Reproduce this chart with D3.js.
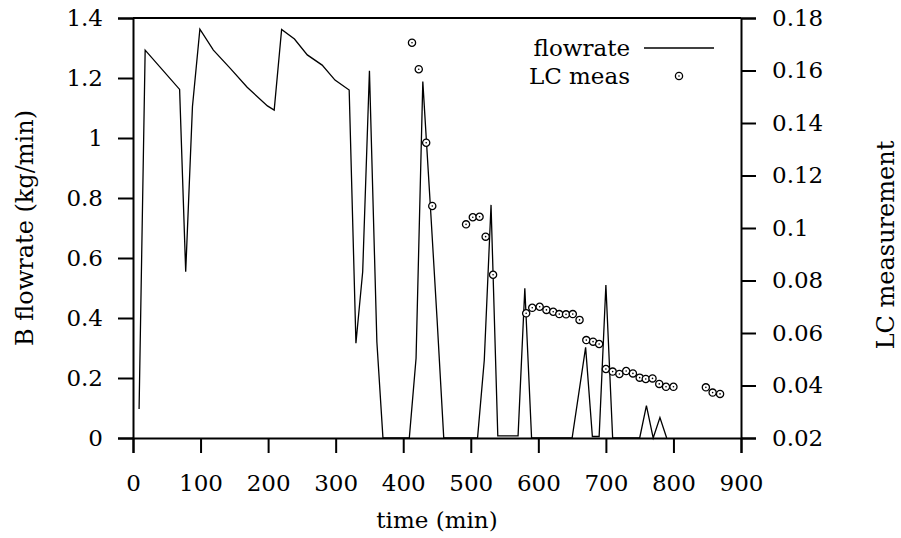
<!DOCTYPE html>
<html>
<head>
<meta charset="utf-8">
<script src="https://cdn.jsdelivr.net/npm/d3@7"></script>
<style>
  body { margin: 0; background: #fff; }
  svg { font-family: "DejaVu Serif", serif; }
</style>
</head>
<body>
<div id="chart-area"></div>
<script>
// flowrate line (kg/min)
var flowTime = [9, 18, 69, 78, 88, 99, 119, 144, 169, 199, 209, 220, 239, 258, 280, 299, 320, 330, 340, 350, 361, 370,
  409, 419, 429, 440, 450, 460, 510, 520, 530, 540, 550, 560, 570, 580, 590, 650, 670, 680, 690, 700, 710,
  750, 760, 770, 780, 790];
var flowRate = [0.097, 1.293, 1.162, 0.554, 1.104, 1.363, 1.293, 1.232, 1.169, 1.107, 1.093, 1.362, 1.33, 1.277, 1.243, 1.193, 1.16, 0.316, 0.554, 1.224, 0.32, 0,
  0, 0.266, 1.188, 0.78, 0.40, 0, 0, 0.26, 0.777, 0.007, 0.007, 0.007, 0.007, 0.499, 0, 0, 0.302, 0.005, 0.005, 0.51, 0,
  0, 0.108, 0, 0.068, 0];

// LC measurements
var lcTime = [413, 423, 434, 443, 493, 503, 513, 522, 533, 582, 591, 602, 612, 622, 631, 641, 651, 661,
  671, 681, 690, 700, 710, 720, 730, 740, 750, 759, 769, 779, 789, 800, 848, 858, 869];
var lcValue = [0.1706, 0.1605, 0.1325, 0.1084, 0.1014, 0.1041, 0.1043, 0.0967, 0.0822, 0.0675, 0.0696, 0.0700, 0.0688, 0.0681, 0.0672, 0.0671, 0.0672, 0.0650,
  0.0573, 0.0567, 0.0558, 0.0463, 0.0453, 0.0444, 0.0455, 0.0446, 0.0430, 0.0425, 0.0427, 0.0406, 0.0395, 0.0395, 0.0393, 0.0373, 0.0368];

var xTicks = [0, 100, 200, 300, 400, 500, 600, 700, 800, 900];
var yTicks = [0, 0.2, 0.4, 0.6, 0.8, 1, 1.2, 1.4];
var y2Ticks = [0.02, 0.04, 0.06, 0.08, 0.1, 0.12, 0.14, 0.16, 0.18];

var margin = { left: 133, right: 160, top: 18, bottom: 100 };
var width = 901 - margin.left - margin.right,
    height = 538 - margin.top - margin.bottom;

var svg = d3.select("#chart-area")
  .append("svg")
    .attr("width", 901)
    .attr("height", 538);

var g = svg.append("g")
  .attr("transform", "translate(" + margin.left + "," + margin.top + ")");

var x = d3.scaleLinear().domain([0, 900]).range([0, width]);
var y = d3.scaleLinear().domain([0, 1.4]).range([height, 0]);
var y2 = d3.scaleLinear().domain([0.02, 0.18]).range([height, 0]);

var fmt = function (d) { return String(+d.toFixed(2)); };

// axes
var xAxis = d3.axisBottom(x).tickValues(xTicks).tickSize(15).tickPadding(22).tickFormat(fmt);
var yAxis = d3.axisLeft(y).tickValues(yTicks).tickSize(15).tickPadding(15).tickFormat(fmt);
var y2Axis = d3.axisRight(y2).tickValues(y2Ticks).tickSize(15).tickPadding(16).tickFormat(fmt);

g.append("g").attr("class", "axis")
  .attr("transform", "translate(0," + height + ")")
  .call(xAxis);
g.append("g").attr("class", "axis")
  .call(yAxis);
g.append("g").attr("class", "axis")
  .attr("transform", "translate(" + width + ",0)")
  .call(y2Axis);

// top border
g.append("line")
  .attr("x1", 0).attr("x2", width)
  .attr("y1", 0).attr("y2", 0)
  .attr("stroke", "#000").attr("stroke-width", 2);

g.selectAll(".axis path").attr("stroke", "#000").attr("stroke-width", 2);
g.selectAll(".axis line").attr("stroke", "#000").attr("stroke-width", 2);
g.selectAll(".axis text")
  .attr("fill", "#000")
  .style("font-size", "23px")
  .style("font-family", "'DejaVu Serif', serif");

// flowrate line
var flowData = flowTime.map(function (t, i) { return { t: t, v: flowRate[i] }; });
var line = d3.line().x(function (d) { return x(d.t); }).y(function (d) { return y(d.v); });

g.append("path")
  .datum(flowData)
  .attr("d", line)
  .attr("fill", "none")
  .attr("stroke", "#000")
  .attr("stroke-width", 1.3);

// LC points
var lcData = lcTime.map(function (t, i) { return { t: t, v: lcValue[i] }; });

var pts = g.selectAll(".pt")
  .data(lcData)
  .enter().append("g")
    .attr("class", "pt")
    .attr("transform", function (d) { return "translate(" + x(d.t) + "," + y2(d.v) + ")"; });
pts.append("circle").attr("r", 3.6).attr("fill", "#fff").attr("stroke", "#000").attr("stroke-width", 1.3);
pts.append("circle").attr("r", 0.8).attr("fill", "#000");

// legend
var lg = svg.append("g");
lg.append("text").attr("x", 630).attr("y", 56).attr("text-anchor", "end")
  .style("font-size", "23px").text("flowrate");
lg.append("line").attr("x1", 644).attr("x2", 714).attr("y1", 48).attr("y2", 48)
  .attr("stroke", "#000").attr("stroke-width", 1.3);
lg.append("text").attr("x", 630).attr("y", 84).attr("text-anchor", "end")
  .style("font-size", "23px").text("LC meas");
lg.append("circle").attr("cx", 679).attr("cy", 76).attr("r", 3.6)
  .attr("fill", "#fff").attr("stroke", "#000").attr("stroke-width", 1.3);
lg.append("circle").attr("cx", 679).attr("cy", 76).attr("r", 0.8).attr("fill", "#000");

// axis titles
svg.append("text")
  .attr("x", margin.left + width / 2).attr("y", 528)
  .attr("text-anchor", "middle")
  .style("font-size", "23px")
  .text("time (min)");

svg.append("text")
  .attr("transform", "translate(33," + (margin.top + height / 2) + ") rotate(-90)")
  .attr("text-anchor", "middle")
  .style("font-size", "24px")
  .text("B flowrate (kg/min)");

svg.append("text")
  .attr("transform", "translate(894,245) rotate(-90)")
  .attr("text-anchor", "middle")
  .style("font-size", "24px")
  .text("LC measurement");
</script>
</body>
</html>
